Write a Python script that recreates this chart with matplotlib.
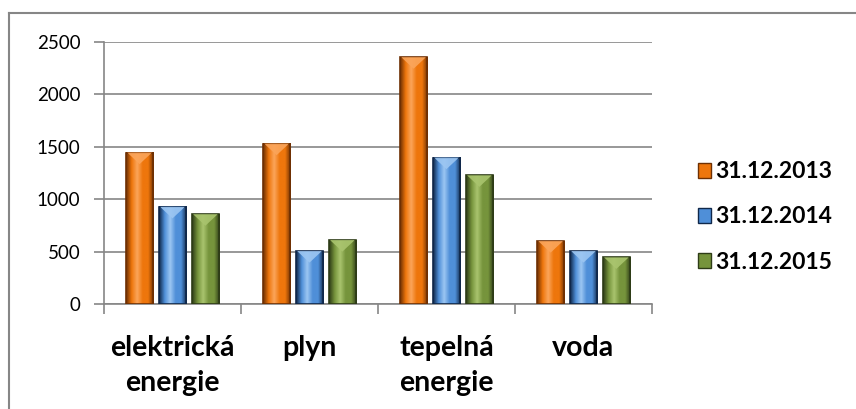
import matplotlib.pyplot as plt
import numpy as np
from matplotlib.colors import LinearSegmentedColormap
from matplotlib.patches import Patch, Polygon

''' Graph data definition '''
categories = ['elektrická\nenergie', 'plyn', 'tepelná\nenergie', 'voda']
series_labels = ['31.12.2013', '31.12.2014', '31.12.2015']
v2013 = [1445, 1530, 2355, 600]
v2014 = [927, 505, 1397, 505]
v2015 = [857, 610, 1228, 445]
yticks = [0, 500, 1000, 1500, 2000, 2500]

''' Colours: (dark edge, base, light) '''
colors = [
    ('#6e3003', '#ee760c', '#fba55a'),
    ('#10284a', '#4f8fd8', '#9cc6f2'),
    ('#2e3c17', '#76943c', '#a9c46e'),
]
axis_gray = '#868686'

plt.rcParams['font.family'] = ['Lato', 'DejaVu Sans']

fig = plt.figure(figsize=(8.56, 4.09), dpi=100)
ax = fig.add_axes([104 / 856, 1 - 304 / 409, 548 / 856, 262 / 409])

width = 0.2
step = 0.24
x = np.arange(len(categories))
values = [v2013, v2014, v2015]

for i, (vals, (dark, base, light)) in enumerate(zip(values, colors)):
    cmap = LinearSegmentedColormap.from_list('c%d' % i, [dark, base, light, base, base, dark])
    grad = np.linspace(0, 1, 64).reshape(1, -1)
    for xi, v in zip(x, vals):
        x0 = xi + (i - 1) * step - width / 2
        x1 = x0 + width
        ax.imshow(grad, cmap=cmap, extent=(x0, x1, 0, v), aspect='auto', zorder=3, interpolation='bilinear')
        ax.add_patch(plt.Rectangle((x0, 0), width, v, fill=False, edgecolor=dark, lw=1.2, zorder=4))
        ''' top bevel '''
        xc = (x0 + x1) / 2
        ax.add_patch(Polygon([(x0 + 0.01, v), (x1 - 0.01, v), (xc, v - 110)], closed=True,
                             facecolor=light, edgecolor='none', alpha=0.9, zorder=4))

ax.set_xlim(-0.5, len(categories) - 0.5)
ax.set_ylim(0, 2500)
ax.set_yticks(yticks)
ax.set_yticklabels([str(t) for t in yticks], fontsize=13.5)
ax.set_xticks(x)
ax.set_xticklabels(categories, fontsize=20.5, fontweight='bold', linespacing=1.45)
ax.set_xticks(np.arange(len(categories) + 1) - 0.5, minor=True)
ax.tick_params(axis='x', which='major', length=0, pad=22)
ax.tick_params(axis='x', which='minor', length=7, color=axis_gray, width=1.2)
ax.tick_params(axis='y', length=7, color=axis_gray, width=1.2, pad=10)

ax.grid(axis='y', color=axis_gray, lw=1.2, zorder=0)
ax.set_axisbelow(True)
for side in ['top', 'right']:
    ax.spines[side].set_visible(False)
for side in ['left', 'bottom']:
    ax.spines[side].set_color(axis_gray)
    ax.spines[side].set_linewidth(1.2)

handles = [Patch(facecolor=c[1], edgecolor=c[0]) for c in colors]
fig.legend(handles=handles, labels=series_labels, loc='center left',
           bbox_to_anchor=(677 / 856, 1 - 217 / 409), frameon=False,
           prop={'size': 16.5, 'weight': 'bold'}, handlelength=0.6, handleheight=0.6,
           handletextpad=0.15, labelspacing=1.05)

''' outer frame (left and top only visible) '''
fig.add_artist(plt.Line2D([8.5 / 856, 8.5 / 856], [0, 1 - 12.5 / 409], color=axis_gray, lw=1.5))
fig.add_artist(plt.Line2D([8.5 / 856, 1], [1 - 12.5 / 409, 1 - 12.5 / 409], color=axis_gray, lw=1.5))

fig.savefig('out.png', dpi=100)
